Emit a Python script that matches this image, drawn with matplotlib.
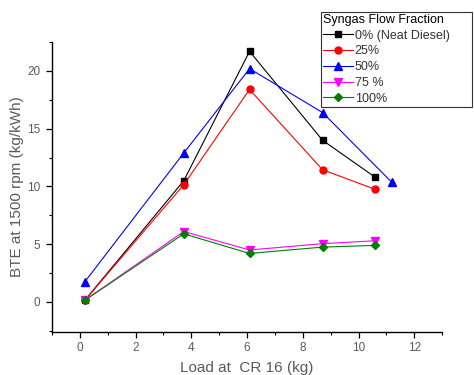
import matplotlib
matplotlib.use("Agg")
import matplotlib.pyplot as plt
from matplotlib.ticker import MultipleLocator

plt.rcParams['font.family'] = ['Liberation Sans', 'DejaVu Sans']

# Load (kg) at each measurement point
load = [0.18, 3.73, 6.09, 8.71, 10.6]
load_50 = [0.18, 3.73, 6.09, 8.71, 11.2]

bte_0 = [0.15, 10.5, 21.7, 14.0, 10.8]
bte_25 = [0.15, 10.15, 18.4, 11.45, 9.75]
bte_50 = [1.75, 12.9, 20.2, 16.4, 10.35]
bte_75 = [0.15, 6.1, 4.5, 5.05, 5.3]
bte_100 = [0.15, 5.9, 4.2, 4.75, 4.9]

labels = ["0% (Neat Diesel)", "25%", "50%", "75 %", "100%"]
colors = ["#000000", "#ff0000", "#0000ff", "#ff00ff", "#007f00"]
markers = ["s", "o", "^", "v", "D"]
msizes = [5, 5, 5.5, 5.5, 4.5]

series = [(load, bte_0), (load, bte_25), (load_50, bte_50),
          (load, bte_75), (load, bte_100)]

fig = plt.figure(figsize=(4.74, 3.75), dpi=100)
ax = fig.add_axes([0.1097, 0.1147, 0.823, 0.773])

for (x, y), lab, c, m, ms in zip(series, labels, colors, markers, msizes):
    ax.plot(x, y, color=c, marker=m, markersize=ms, linewidth=0.8,
            markeredgecolor=c, markerfacecolor=c, label=lab)

ax.set_xlim(-1, 13)
ax.set_ylim(-2.6, 22.5)
ax.xaxis.set_major_locator(MultipleLocator(2))
ax.xaxis.set_minor_locator(MultipleLocator(1))
ax.yaxis.set_major_locator(MultipleLocator(5))
ax.yaxis.set_minor_locator(MultipleLocator(2.5))

for s in ["top", "right"]:
    ax.spines[s].set_visible(False)
for s in ["left", "bottom"]:
    ax.spines[s].set_linewidth(1.0)

text_grey = "#5a5a5a"
ax.tick_params(which="major", direction="out", length=4, width=0.9,
               labelsize=8.5, labelcolor=text_grey)
ax.tick_params(axis="x", which="major", pad=3)
ax.tick_params(axis="y", which="major", pad=4.5)
ax.tick_params(which="minor", direction="out", length=2.5, width=0.8)

ax.set_xlabel("Load at  CR 16 (kg)", fontsize=11, color=text_grey, labelpad=5)
ax.set_ylabel("BTE at 1500 rpm (kg/kWh)", fontsize=11, color=text_grey, labelpad=2)

x0 = 321 / 474
x1 = 472 / 474
top = 1 - 12 / 375
leg = fig.legend(title="Syngas Flow Fraction", loc="upper left",
                 bbox_to_anchor=(x0, 0, x1 - x0, top), mode="expand",
                 fontsize=9, title_fontsize=9,
                 frameon=True, fancybox=False, borderpad=0.15,
                 labelspacing=0.3, handlelength=2.4, handletextpad=0.15,
                 borderaxespad=0)
leg.get_frame().set_edgecolor("black")
leg.get_frame().set_linewidth(0.8)
leg._legend_box.align = "left"
for t in leg.get_texts():
    t.set_color("#333333")

fig.savefig("out.png", dpi=100)
